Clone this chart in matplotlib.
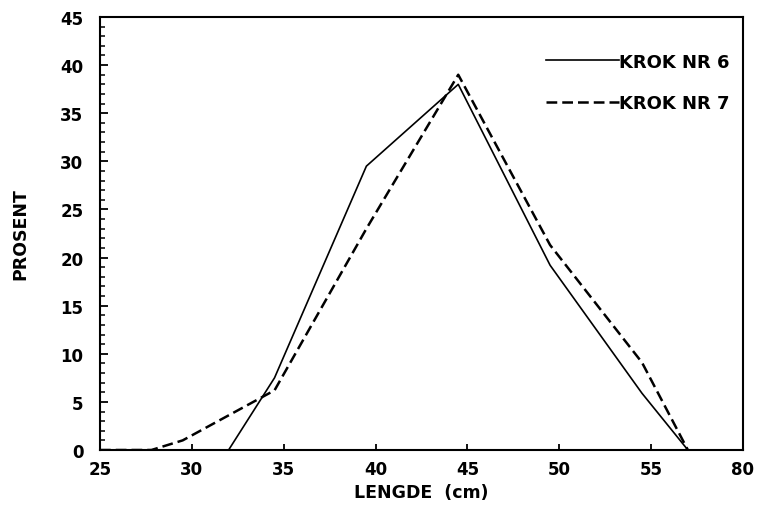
import matplotlib
matplotlib.use("Agg")
import matplotlib.pyplot as plt
from matplotlib.ticker import MultipleLocator

# Data
krok6_x = [32.0, 34.5, 39.5, 44.5, 49.5, 54.5, 57.0]
krok6_y = [0.0, 7.5, 29.5, 38.0, 19.2, 5.9, 0.0]

krok7_x = [25.0, 27.8, 29.5, 34.5, 39.5, 44.5, 49.5, 54.5, 57.0]
krok7_y = [0.0, 0.0, 1.0, 6.2, 23.0, 39.0, 21.3, 9.1, 0.0]

series_labels = ["KROK NR 6", "KROK NR 7"]
x_ticks = [25, 30, 35, 40, 45, 50, 55, 60]
x_tick_labels = ["25", "30", "35", "40", "45", "50", "55", "80"]
y_ticks = [0, 5, 10, 15, 20, 25, 30, 35, 40, 45]
x_label = "LENGDE  (cm)"
y_label = "PROSENT"

plt.rcParams['font.family'] = ['DejaVu Sans']
plt.rcParams['font.weight'] = 'bold'
fig = plt.figure(figsize=(7.6, 5.06), dpi=100)
ax = fig.add_axes([100/760, 1-451/506, 643/760, (451-18)/506])

ax.plot(krok6_x, krok6_y, color='black', lw=1.2, label=series_labels[0])
ax.plot(krok7_x, krok7_y, color='black', lw=1.8, linestyle=(0, (4.3, 2.0)),
        label=series_labels[1])

ax.set_xlim(25, 60)
ax.set_ylim(0, 45)
ax.set_xticks(x_ticks)
ax.set_xticklabels(x_tick_labels, fontweight='bold')
ax.set_yticks(y_ticks)
ax.set_yticklabels([str(v) for v in y_ticks], fontweight='bold')
ax.yaxis.set_minor_locator(MultipleLocator(1))

for s in ax.spines.values():
    s.set_linewidth(1.5)

ax.tick_params(axis='x', which='major', direction='in', length=4, width=1.3,
               labelsize=12, pad=7, top=False)
ax.tick_params(axis='y', which='major', direction='in', length=6, width=1.3,
               labelsize=12, pad=12, right=False)
ax.tick_params(axis='y', which='minor', direction='in', length=3.5, width=1.1,
               right=False)

ax.set_xlabel(x_label, fontsize=12.5, labelpad=4, fontweight='bold')
ax.set_ylabel(y_label, fontsize=12.5, labelpad=22, fontweight='bold')

leg = ax.legend(loc='upper right', bbox_to_anchor=(1.005, 0.955), frameon=False,
                prop={'size': 13, 'weight': 'bold'}, handlelength=4.0,
                handletextpad=0.05, labelspacing=1.3)

fig.savefig("out.png", dpi=100)
